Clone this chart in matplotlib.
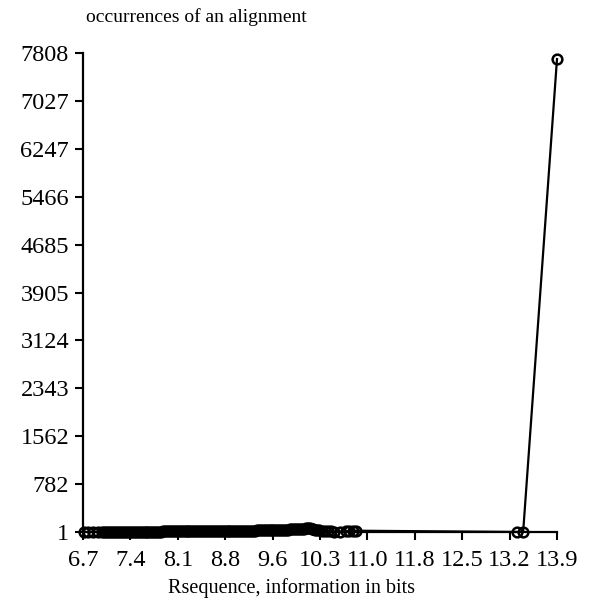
import numpy as np
import matplotlib
matplotlib.use("Agg")
import matplotlib.pyplot as plt

plt.rcParams['font.family'] = ['Liberation Serif', 'DejaVu Serif']

# Rsequence (bits) and number of occurrences
rseq = [6.68, 6.74, 6.81, 6.89, 6.95, 6.99, 7.02, 7.05, 7.08, 7.11,
        7.14, 7.17, 7.20, 7.23, 7.26, 7.29, 7.32, 7.35, 7.38, 7.41,
        7.44, 7.47, 7.50, 7.53, 7.56, 7.59, 7.62, 7.65, 7.68, 7.71,
        7.74, 7.77, 7.80, 7.83, 7.86, 7.89, 7.92, 7.95, 7.98, 8.01,
        8.04, 8.07, 8.10, 8.13, 8.16, 8.19, 8.22, 8.25, 8.28, 8.31,
        8.34, 8.37, 8.40, 8.43, 8.46, 8.49, 8.52, 8.55, 8.58, 8.61,
        8.64, 8.67, 8.70, 8.73, 8.76, 8.79, 8.82, 8.85, 8.88, 8.91,
        8.94, 8.97, 9.00, 9.03, 9.06, 9.09, 9.12, 9.15, 9.18, 9.21,
        9.24, 9.27, 9.30, 9.33, 9.36, 9.39, 9.42, 9.45, 9.48, 9.51,
        9.54, 9.57, 9.60, 9.63, 9.66, 9.69, 9.72, 9.75, 9.78, 9.81,
        9.84, 9.87, 9.90, 9.93, 9.96, 9.99, 10.02, 10.05, 10.08, 10.11,
        10.14, 10.17, 10.20, 10.23, 10.26, 10.29, 10.33, 10.37, 10.42, 10.47,
        10.52, 10.60, 10.70, 10.75, 10.80, 10.85,
        13.33, 13.42, 13.94]
occur = [1, 1, 1, 1, 2, 2, 2, 3, 3, 3,
         3, 4, 4, 4, 4, 5, 5, 5, 5, 6,
         6, 6, 6, 7, 7, 7, 7, 8, 8, 8,
         8, 9, 9, 9, 9, 10, 10, 10, 10, 11,
         11, 11, 11, 12, 12, 12, 12, 13, 13, 13,
         13, 14, 14, 14, 14, 15, 15, 15, 16, 16,
         16, 17, 17, 17, 18, 18, 18, 19, 19, 19,
         20, 20, 20, 21, 21, 22, 22, 23, 23, 24,
         24, 25, 25, 26, 26, 27, 27, 28, 28, 29,
         30, 30, 31, 32, 33, 34, 35, 36, 38, 40,
         42, 44, 46, 48, 50, 52, 55, 58, 62, 66,
         64, 56, 48, 40, 34, 28, 22, 18, 14, 10,
         8, 6, 12, 18, 24, 22,
         1, 1, 7710]

xticklabels = ['6.7', '7.4', '8.1', '8.8', '9.6', '10.3', '11.0', '11.8', '12.5', '13.2', '13.9']
yticklabels = ['1', '782', '1562', '2343', '3124', '3905', '4685', '5466', '6247', '7027', '7808']
xmin, xmax = 6.66, 13.94
ymin, ymax = 1, 7808

fig = plt.figure(figsize=(5.91, 6.10), dpi=100)
ax = fig.add_axes([83/591, 1-532/610, (557-83)/591, (532-53)/610])

ax.plot(rseq, occur, color='black', lw=1.6, marker='o', markersize=7,
        markerfacecolor='none', markeredgecolor='black', markeredgewidth=1.8,
        clip_on=False, zorder=3)

ax.set_xlim(xmin, xmax)
ax.set_ylim(ymin, ymax)
ax.set_xticks(np.linspace(xmin, xmax, len(xticklabels)))
ax.set_xticklabels(xticklabels)
ax.set_yticks(np.linspace(ymin, ymax, len(yticklabels)))
ax.set_yticklabels(yticklabels)
ax.tick_params(axis='both', direction='out', length=6, width=1.5,
               labelsize=17.5, colors='black')
ax.tick_params(axis='x', pad=7)
ax.tick_params(axis='y', pad=4)

for s in ['top', 'right']:
    ax.spines[s].set_visible(False)
for s in ['left', 'bottom']:
    ax.spines[s].set_linewidth(1.6)

fig.text(86/591, 1-22/610, 'occurrences of an alignment', fontsize=14,
         ha='left', va='baseline')
fig.text(292/591, 1-593/610, 'Rsequence, information in bits', fontsize=14.5,
         ha='center', va='baseline')

fig.savefig('out.png', dpi=100)
